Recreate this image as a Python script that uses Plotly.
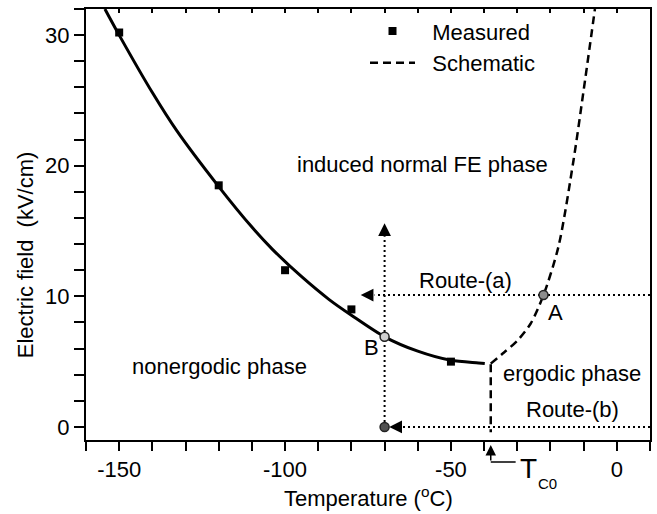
import plotly.graph_objects as go

# ---------------- data ----------------
measured_T = [-150, -120, -100, -80, -50]
measured_E = [30.2, 18.5, 12.0, 9.0, 5.0]

fit_T = [-154.3, -150, -140, -132.7, -120, -110, -103.8, -95, -86.7, -80, -70, -60, -50, -41.7, -39.8]
fit_E = [32.0, 30.0, 25.6, 22.7, 18.4, 15.3, 13.6, 11.5, 9.75, 8.55, 6.9, 5.8, 5.1, 4.9, 4.85]

schem_T = [-38.0, -34.0, -30.0, -26.0, -22.1, -17.6, -13.0, -10.1, -6.6]
schem_E = [4.85, 5.7, 6.6, 7.9, 10.1, 13.8, 20.5, 25.6, 32.0]

tc0_T = [-38, -38]
tc0_E = [4.8, -0.4]

route_v_T = [-70, -70]
route_v_E = [0, 14.6]
route_v_tip = (-70, 15.6)

route_a_T = [10, -73.0]
route_a_E = [10.1, 10.1]
route_a_tip = (-77.2, 10.1)

route_b_T = [10, -64.5]
route_b_E = [0, 0]
route_b_tip = (-68.6, 0)

point_A = (-22.1, 10.1)
point_B = (-70, 6.9)
point_C = (-70, 0)

x_range = [-160, 10]
y_range = [-1, 32]
x_tickvals = [-150, -100, -50, 0]
x_ticktext = ["-150", "-100", "-50", "0"]
y_tickvals = [0, 10, 20, 30]
y_ticktext = ["0", "10", "20", "30"]
top_tickvals = [-150, -140, -130, -120, -110, -100, -90, -80, -70, -60, -50, -40, -30, -20, -10, 0]

labels = [
    ("induced normal FE phase", -58.5, 20.1),
    ("nonergodic phase", -119.7, 4.6),
    ("ergodic phase", -13.4, 4.1),
    ("Route-(b)", -13.4, 1.3),
    ("Route-(a)", -45.6, 11.2),
    ("A", -18.5, 8.8),
    ("B", -73.8, 6.1),
]

FONT = "Liberation Sans, Arial, Helvetica, sans-serif"
FS = 22
NB = "\u00a0\u00a0"

fig = go.Figure()

dot = "2px,3px"
# dotted routes
for tx, ty in [(route_v_T, route_v_E), (route_a_T, route_a_E), (route_b_T, route_b_E)]:
    fig.add_trace(go.Scatter(x=tx, y=ty, mode="lines", showlegend=False,
                             line=dict(color="black", width=2, dash=dot), hoverinfo="skip"))

# Tc0 vertical dashed
fig.add_trace(go.Scatter(x=tc0_T, y=tc0_E, mode="lines", showlegend=False,
                         line=dict(color="black", width=2.5, dash="8px,5px"), hoverinfo="skip"))

# fitted solid curve
fig.add_trace(go.Scatter(x=fit_T, y=fit_E, mode="lines", showlegend=False,
                         line=dict(color="black", width=3, shape="spline", smoothing=0.8)))

# measured
fig.add_trace(go.Scatter(x=measured_T, y=measured_E, mode="markers", name=NB + "Measured",
                         marker=dict(symbol="square", size=8, color="black")))

# schematic
fig.add_trace(go.Scatter(x=schem_T, y=schem_E, mode="lines", name=NB + "Schematic",
                         line=dict(color="black", width=2.5, dash="8px,5px", shape="spline", smoothing=0.8)))

# circles
for (px, py), fill in [(point_B, "#d0d0d0"), (point_A, "#8c8c8c"), (point_C, "#505050")]:
    fig.add_trace(go.Scatter(x=[px], y=[py], mode="markers", showlegend=False,
                             marker=dict(symbol="circle", size=9, color=fill,
                                         line=dict(color="#222", width=1.5))))

# invisible trace on top axis so it is drawn
fig.add_trace(go.Scatter(x=[x_range[0]], y=[y_range[0]], xaxis="x2", mode="markers",
                         marker=dict(opacity=0), showlegend=False, hoverinfo="skip"))

annotations = []
for txt, tx, ty in labels:
    annotations.append(dict(x=tx, y=ty, xref="x", yref="y", text=txt, showarrow=False,
                            xanchor="center", yanchor="middle",
                            font=dict(family=FONT, size=FS, color="black")))

# arrowheads
for (tipx, tipy), (axp, ayp) in [(route_v_tip, (0, 13)), (route_a_tip, (13, 0)), (route_b_tip, (13, 0))]:
    annotations.append(dict(x=tipx, y=tipy, xref="x", yref="y", ax=axp, ay=ayp, text="",
                            showarrow=True, arrowhead=2, arrowsize=1.7, arrowwidth=1.5,
                            arrowcolor="black"))

# T_C0 arrow below axis
tc0x = tc0_T[0]
plot_h = 514 - 9 - 74
annotations.append(dict(x=tc0x, y=-5 / plot_h, xref="x", yref="paper", ax=0, ay=17, text="",
                        showarrow=True, arrowhead=2, arrowsize=1.4, arrowwidth=1.5, arrowcolor="black"))
annotations.append(dict(x=-26.5, y=-28 / plot_h, xref="x", yref="paper", text="T", showarrow=False,
                        xanchor="center", yanchor="middle",
                        font=dict(family=FONT, size=28, color="black")))
annotations.append(dict(x=-21.0, y=-43 / plot_h, xref="x", yref="paper", text="C0", showarrow=False,
                        xanchor="center", yanchor="middle",
                        font=dict(family=FONT, size=15, color="black")))

# axis titles
annotations.append(dict(x=(26 - 86) / 566, y=(440 - 255) / plot_h, xref="paper", yref="paper",
                        text="Electric field\u00a0 (kV/cm)", textangle=-90, showarrow=False,
                        xanchor="center", yanchor="middle",
                        font=dict(family=FONT, size=FS, color="black")))
annotations.append(dict(x=0.5, y=(440 - 497) / plot_h, xref="paper", yref="paper",
                        text="Temperature (<sup>o</sup>C)", showarrow=False,
                        xanchor="center", yanchor="middle",
                        font=dict(family=FONT, size=FS, color="black")))

shapes = [dict(type="line", xref="x", yref="paper", x0=tc0x, x1=-30.5,
               y0=-22 / plot_h, y1=-22 / plot_h, line=dict(color="black", width=1.5))]

fig.update_layout(
    width=657, height=514, autosize=False,
    margin=dict(l=86, r=5, t=9, b=74),
    paper_bgcolor="white", plot_bgcolor="white",
    font=dict(family=FONT, size=FS, color="black"),
    annotations=annotations, shapes=shapes,
    legend=dict(x=(366 - 86) / 566, y=0.997, xanchor="left", yanchor="top", bgcolor="rgba(0,0,0,0)",
                font=dict(family=FONT, size=22, color="black"), itemwidth=45,
                tracegroupgap=0),
    xaxis=dict(range=x_range, tickmode="array", tickvals=x_tickvals, ticktext=x_ticktext,
               ticks="outside", ticklen=9, tickwidth=2, tickcolor="black",
               showline=True, linewidth=2, linecolor="black", mirror=True,
               showgrid=False, zeroline=False, tickfont=dict(size=22),
               minor=dict(dtick=10, tick0=0, ticks="outside", ticklen=9, tickwidth=2, tickcolor="black")),
    xaxis2=dict(range=x_range, overlaying="x", side="top", anchor="y", tickmode="array",
                tickvals=top_tickvals, ticks="inside", ticklen=4, tickwidth=1.5, tickcolor="black",
                showticklabels=False, showgrid=False, zeroline=False, showline=False),
    yaxis=dict(range=y_range, tickmode="array", tickvals=y_tickvals, ticktext=y_ticktext,
               ticks="outside", ticklen=10, tickwidth=2, tickcolor="black",
               showline=True, linewidth=2, linecolor="black", mirror=True,
               showgrid=False, zeroline=False, tickfont=dict(size=22),
               minor=dict(dtick=2, tick0=0, ticks="outside", ticklen=10, tickwidth=2, tickcolor="black")),
)

fig.write_html("out.html")
